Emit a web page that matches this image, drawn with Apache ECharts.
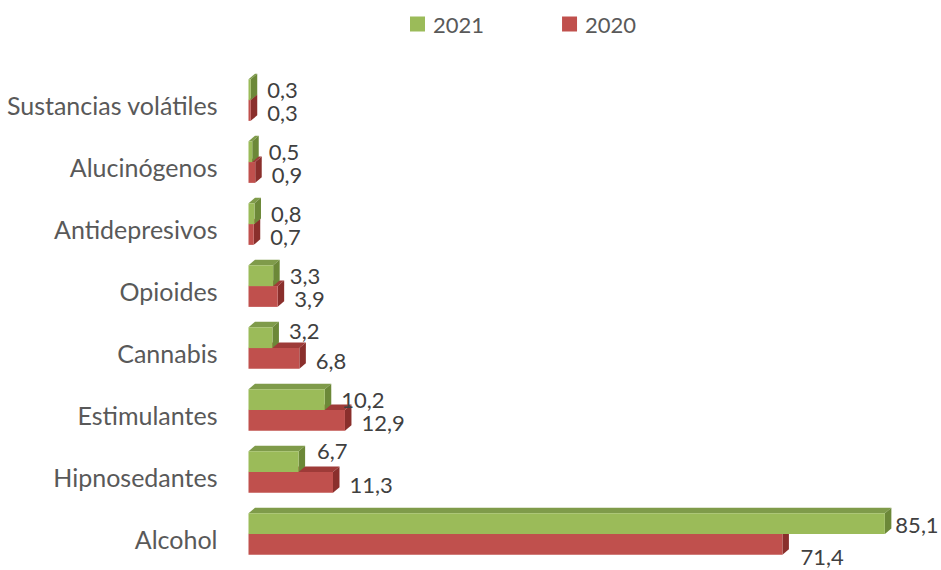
<!DOCTYPE html>
<html>
<head>
<meta charset="utf-8">
<script src="https://cdn.jsdelivr.net/npm/echarts@6/dist/echarts.min.js"></script>
<style>
  html, body { margin: 0; padding: 0; background: #ffffff; }
  #chart { width: 941px; height: 570px; }
</style>
</head>
<body>
<div id="chart"></div>
<script>
// Substances, listed from the bottom of the chart upwards
const categories = ['Alcohol', 'Hipnosedantes', 'Estimulantes', 'Cannabis', 'Opioides', 'Antidepresivos', 'Alucinógenos', 'Sustancias volátiles'];
const years = ['2021', '2020'];
const values2021 = [85.1, 6.7, 10.2, 3.2, 3.3, 0.8, 0.5, 0.3];
const values2020 = [71.4, 11.3, 12.9, 6.8, 3.9, 0.7, 0.9, 0.3];

const FONT = 'Lato, "Open Sans", sans-serif';
const DEPTH_X = 6.5;   // horizontal depth of the pseudo-3D block
const DEPTH_Y = 5.5;   // vertical depth of the pseudo-3D block

// Small extra shifts [dx, dy] for value labels that sit apart from the usual spot
const labelNudge = {
  '2021': { 'Hipnosedantes': [2, -11], 'Cannabis': [0, -7.5], 'Alcohol': [-6, 1] },
  '2020': { 'Alcohol': [1.5, 10] }
};

const palette = {
  '2021': { front: '#9BBB59', top: '#7F9B4A', side: '#6C8838', labelDy: 0 },
  '2020': { front: '#C0504D', top: '#9E3B38', side: '#8A2F2C', labelDy: 2.5 }
};

function fmt(v) {
  return v.toFixed(1).replace('.', ',');
}

// slot: offset of the front face's top edge from the band centre, as a share of the band
function bar3d(name, values, slot, z) {
  const colors = palette[name];
  return {
    type: 'custom',
    name: name,
    z: z,
    itemStyle: { color: colors.front },
    encode: { x: 0, y: 1 },
    data: values.map((v, i) => [v, i]),
    renderItem: function (params, api) {
      const v = api.value(0);
      const ci = api.value(1);
      const base = api.coord([0, ci]);
      const end = api.coord([v, ci]);
      const band = api.size([0, 1])[1];
      const h = band * 0.336;
      const y0 = base[1] + band * slot;
      const x0 = base[0];
      const x1 = end[0];
      const nudge = (labelNudge[name] || {})[categories[ci]] || [0, 0];
      return {
        type: 'group',
        children: [
          {
            type: 'polygon',
            shape: { points: [[x0, y0], [x0 + DEPTH_X, y0 - DEPTH_Y], [x1 + DEPTH_X, y0 - DEPTH_Y], [x1, y0]] },
            style: { fill: colors.top }
          },
          {
            type: 'polygon',
            shape: { points: [[x1, y0], [x1 + DEPTH_X, y0 - DEPTH_Y], [x1 + DEPTH_X, y0 + h - DEPTH_Y], [x1, y0 + h]] },
            style: { fill: colors.side }
          },
          {
            type: 'rect',
            shape: { x: x0, y: y0, width: x1 - x0, height: h },
            style: { fill: colors.front }
          },
          {
            type: 'text',
            x: x1 + 16.5 + nudge[0],
            y: y0 + h / 2 + colors.labelDy + nudge[1],
            style: {
              text: fmt(v),
              fill: '#404040',
              font: '22px ' + FONT,
              lineHeight: 18,
              align: 'left',
              verticalAlign: 'middle'
            }
          }
        ]
      };
    }
  };
}

const chart = echarts.init(document.getElementById('chart'), null, { renderer: 'svg' });

chart.setOption({
  backgroundColor: '#ffffff',
  animation: false,
  legend: {
    data: years,
    left: 405,
    top: 8,
    icon: 'rect',
    itemWidth: 15,
    itemHeight: 15,
    itemGap: 78,
    textStyle: { fontSize: 22, color: '#595959', fontFamily: FONT, padding: [0, 0, 0, 3] }
  },
  grid: { left: 248.5, right: 19.5, top: 74, bottom: -5 },
  xAxis: {
    type: 'value',
    min: 0,
    max: 90,
    show: false
  },
  yAxis: {
    type: 'category',
    data: categories,
    axisLine: { show: false },
    axisTick: { show: false },
    splitLine: { show: false },
    axisLabel: { fontSize: 25, color: '#595959', fontFamily: FONT, margin: 31 }
  },
  series: [
    bar3d('2021', values2021, -0.415, 3),
    bar3d('2020', values2020, -0.08, 2)
  ]
});
</script>
</body>
</html>
